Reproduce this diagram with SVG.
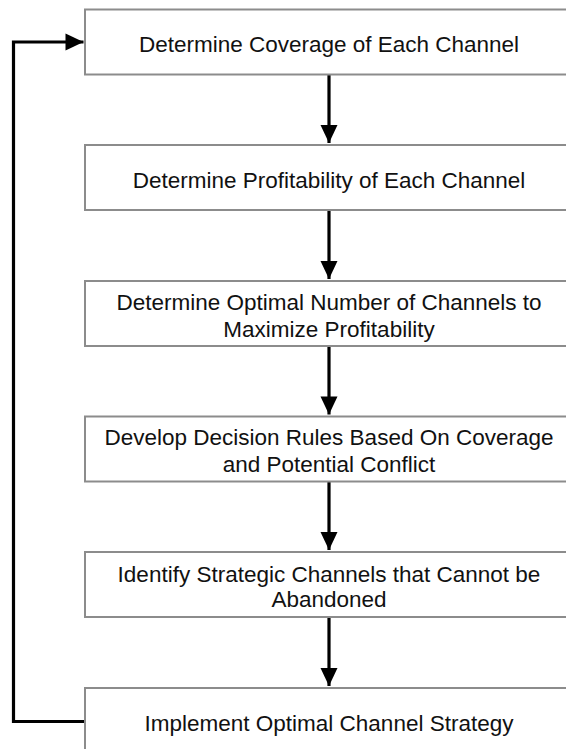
<svg xmlns="http://www.w3.org/2000/svg" width="566" height="749" viewBox="0 0 566 749">
  <style>
    .box { fill: #ffffff; stroke: #8c8c8c; stroke-width: 2; }
    .label { font-family: "Liberation Sans", Arial, Helvetica, sans-serif; font-size: 22.5px; fill: #111111; text-anchor: middle; }
    .edge { fill: none; stroke: #000000; stroke-width: 3.2; }
  </style>
  <defs>
    <marker id="arrowhead" markerUnits="userSpaceOnUse" markerWidth="20" markerHeight="20" viewBox="0 0 20 20" refX="19" refY="10" orient="auto">
      <path d="M1,1.5 L19,10 L1,18.5 Z" fill="#000000"/>
    </marker>
  </defs>

  <rect width="566" height="749" fill="#ffffff"/>

  <g id="connectors">
    <line class="edge" x1="329" y1="74.5" x2="329" y2="143" marker-end="url(#arrowhead)"/>
    <line class="edge" x1="329" y1="210" x2="329" y2="279" marker-end="url(#arrowhead)"/>
    <line class="edge" x1="329" y1="346" x2="329" y2="414.5" marker-end="url(#arrowhead)"/>
    <line class="edge" x1="329" y1="481.5" x2="329" y2="550" marker-end="url(#arrowhead)"/>
    <line class="edge" x1="329" y1="617" x2="329" y2="686" marker-end="url(#arrowhead)"/>
    <path class="edge" d="M85,721.5 H13.5 V42 H83.5" marker-end="url(#arrowhead)"/>
  </g>

  <g id="coverage">
    <rect class="box" x="85" y="9.5" width="490" height="65"/>
    <text class="label" x="329" y="51.5">Determine Coverage of Each Channel</text>
  </g>

  <g id="profitability">
    <rect class="box" x="85" y="145" width="490" height="65"/>
    <text class="label" x="329" y="187.5">Determine Profitability of Each Channel</text>
  </g>

  <g id="optimal-number">
    <rect class="box" x="85" y="281" width="490" height="65"/>
    <text class="label" x="329" y="310">Determine Optimal Number of Channels to</text>
    <text class="label" x="329" y="336.5">Maximize Profitability</text>
  </g>

  <g id="decision-rules">
    <rect class="box" x="85" y="416.5" width="490" height="65"/>
    <text class="label" x="329" y="445">Develop Decision Rules Based On Coverage</text>
    <text class="label" x="329" y="471.5">and Potential Conflict</text>
  </g>

  <g id="strategic-channels">
    <rect class="box" x="85" y="552" width="490" height="65"/>
    <text class="label" x="329" y="581.5">Identify Strategic Channels that Cannot be</text>
    <text class="label" x="329" y="607">Abandoned</text>
  </g>

  <g id="implement">
    <rect class="box" x="85" y="688" width="490" height="70"/>
    <text class="label" x="329" y="730.5">Implement Optimal Channel Strategy</text>
  </g>
</svg>
